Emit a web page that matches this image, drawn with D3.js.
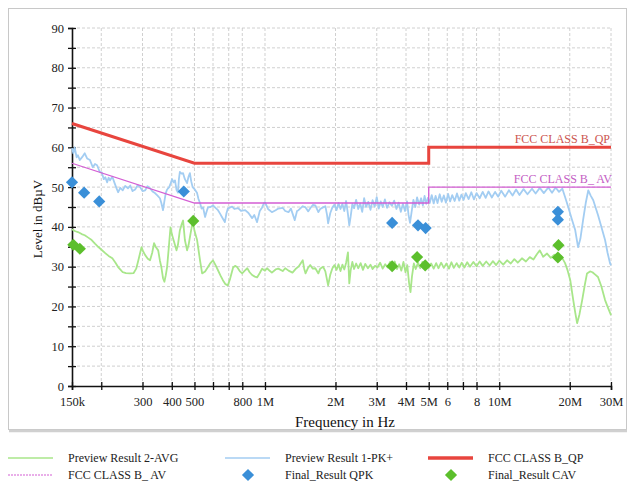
<!DOCTYPE html>
<html><head><meta charset="utf-8">
<script src="https://cdn.jsdelivr.net/npm/d3@7"></script>
<style>body{margin:0;background:#fff}svg text{font-family:"Liberation Serif","DejaVu Serif",serif}</style>
</head><body><svg id="c" width="628" height="487"></svg>
<script>
// ---- data (frequency in MHz, level in dBµV) ----
const yTicks = [0,5,10,15,20,25,30,35,40,45,50,55,60,65,70,75,80,85,90];
const xTicks = [0.15,0.2,0.3,0.4,0.5,0.6,0.7,0.8,1,2,3,4,5,6,7,8,10,20,30];
const xTickLabels = ["150k","","300","400","500","","","800","1M","2M","3M","4M","5M","6","","8","10M","20M","30M"];

const qpLimit = [[0.15,66],[0.5,56],[5,56],[5,60],[30,60]];
const avLimit = [[0.15,56],[0.5,46],[5,46],[5,50],[30,50]];

const pkTrace = [[0.150,59.8],[0.152,58.5],[0.154,60.0],[0.157,57.5],[0.159,58.0],[0.162,56.8],[0.166,57.6],[0.170,58.5],[0.174,57.2],[0.179,56.8],[0.184,55.0],[0.188,55.8],[0.192,55.5],[0.197,53.8],[0.201,53.7],[0.205,52.0],[0.208,52.5],[0.212,51.2],[0.215,52.4],[0.218,51.7],[0.223,52.6],[0.228,51.0],[0.232,49.8],[0.236,48.7],[0.241,49.8],[0.247,49.2],[0.253,50.3],[0.260,49.7],[0.266,50.4],[0.272,49.0],[0.279,49.4],[0.286,50.5],[0.293,50.0],[0.300,49.0],[0.308,49.2],[0.315,50.2],[0.323,49.7],[0.331,48.9],[0.339,48.5],[0.347,47.9],[0.356,47.2],[0.361,46.0],[0.367,44.2],[0.372,46.5],[0.377,48.5],[0.382,49.4],[0.390,50.0],[0.396,51.0],[0.401,52.0],[0.407,51.2],[0.413,51.7],[0.419,49.3],[0.425,48.6],[0.429,52.0],[0.433,53.8],[0.440,53.4],[0.447,53.5],[0.455,52.0],[0.465,51.0],[0.471,52.5],[0.478,53.5],[0.484,51.5],[0.491,50.0],[0.500,49.5],[0.513,48.5],[0.520,47.0],[0.528,46.0],[0.536,44.6],[0.544,44.9],[0.555,42.5],[0.563,43.8],[0.571,44.9],[0.585,45.0],[0.600,45.4],[0.615,44.8],[0.630,44.2],[0.642,43.4],[0.655,42.5],[0.674,41.2],[0.685,43.5],[0.694,44.6],[0.710,44.9],[0.724,45.1],[0.740,44.5],[0.768,44.7],[0.790,44.0],[0.823,44.2],[0.850,43.5],[0.881,42.2],[0.900,43.0],[0.925,41.2],[0.950,44.0],[0.972,44.9],[0.990,46.0],[1.00,46.2],[1.03,44.5],[1.07,43.7],[1.11,44.2],[1.14,44.6],[1.19,44.8],[1.22,44.0],[1.26,43.7],[1.29,44.6],[1.34,41.7],[1.37,44.0],[1.39,44.2],[1.45,45.2],[1.49,44.9],[1.53,43.9],[1.56,44.7],[1.60,45.5],[1.64,45.4],[1.69,43.7],[1.72,44.5],[1.77,44.9],[1.81,45.2],[1.84,43.0],[1.86,40.9],[1.90,43.5],[1.94,44.9],[1.98,45.6],[2.02,44.2],[2.06,46.0],[2.10,44.5],[2.14,45.8],[2.18,44.0],[2.22,46.5],[2.26,43.2],[2.29,40.4],[2.32,42.5],[2.36,45.8],[2.40,44.7],[2.45,46.8],[2.50,44.5],[2.55,45.9],[2.60,43.8],[2.65,47.2],[2.70,45.0],[2.76,46.3],[2.82,44.3],[2.88,46.7],[2.94,45.1],[3.00,47.5],[3.06,44.6],[3.12,46.4],[3.18,45.0],[3.25,46.9],[3.32,44.8],[3.40,46.2],[3.48,45.3],[3.56,46.6],[3.64,44.5],[3.72,46.1],[3.80,43.8],[3.88,45.8],[3.96,44.0],[4.04,46.4],[4.10,43.0],[4.16,41.0],[4.22,43.5],[4.30,46.8],[4.38,45.0],[4.46,47.4],[4.55,45.6],[4.64,47.2],[4.72,45.4],[4.80,47.8],[4.88,45.8],[4.96,47.3],[5.05,46.0],[5.15,48.0],[5.25,45.9],[5.35,47.8],[5.45,46.0],[5.57,48.2],[5.68,46.3],[5.80,47.9],[5.92,46.1],[6.05,48.3],[6.17,46.4],[6.30,48.0],[6.45,46.5],[6.60,48.4],[6.75,46.6],[6.90,48.1],[7.05,46.8],[7.20,48.5],[7.40,47.0],[7.60,48.7],[7.80,46.9],[8.00,48.5],[8.25,47.2],[8.50,48.8],[8.75,47.3],[9.00,48.9],[9.30,47.4],[9.60,48.8],[9.90,47.6],[10.2,49.1],[10.6,47.6],[11.0,49.2],[11.4,47.9],[11.8,49.4],[12.2,48.0],[12.7,49.5],[13.2,48.2],[13.8,49.6],[14.3,48.4],[14.9,49.8],[15.5,48.5],[16.2,49.9],[16.8,48.6],[17.4,49.9],[18.0,48.8],[18.6,49.6],[19.1,47.5],[19.7,45.0],[20.4,42.0],[21.1,39.2],[21.7,34.9],[22.2,37.0],[22.8,41.7],[23.4,46.0],[24.0,49.2],[24.6,47.8],[25.2,46.7],[25.8,44.8],[26.4,43.0],[27.3,40.0],[28.3,36.7],[29.0,33.5],[29.7,30.9],[30.0,30.3]];

const avgTrace = [[0.150,39.4],[0.155,38.9],[0.159,38.7],[0.165,38.2],[0.170,37.9],[0.176,37.3],[0.182,36.7],[0.188,35.8],[0.194,35.0],[0.201,34.2],[0.208,33.4],[0.215,32.7],[0.223,32.1],[0.230,31.0],[0.236,29.9],[0.242,29.2],[0.247,28.6],[0.255,28.4],[0.265,28.3],[0.275,28.4],[0.282,29.5],[0.288,31.6],[0.297,34.9],[0.302,33.8],[0.308,32.9],[0.316,32.0],[0.323,31.6],[0.330,33.5],[0.336,35.9],[0.343,34.8],[0.350,34.1],[0.356,31.5],[0.361,29.9],[0.367,27.1],[0.372,26.2],[0.377,27.8],[0.382,29.9],[0.388,34.5],[0.395,39.9],[0.401,38.0],[0.407,36.7],[0.419,34.1],[0.425,35.5],[0.433,39.1],[0.440,40.5],[0.447,41.6],[0.455,36.7],[0.465,34.1],[0.472,35.5],[0.478,37.4],[0.485,39.5],[0.491,41.6],[0.500,39.0],[0.513,36.7],[0.528,31.6],[0.539,28.3],[0.555,28.8],[0.571,29.9],[0.585,30.9],[0.600,31.6],[0.615,30.4],[0.630,29.1],[0.645,27.8],[0.661,26.6],[0.678,25.6],[0.694,25.3],[0.710,27.0],[0.731,29.8],[0.745,30.2],[0.760,29.9],[0.780,28.9],[0.799,28.3],[0.820,29.0],[0.840,29.6],[0.860,28.6],[0.881,27.9],[0.905,27.5],[0.925,27.3],[0.950,28.4],[0.972,29.5],[1.00,29.0],[1.02,29.6],[1.05,28.9],[1.07,28.5],[1.11,29.3],[1.14,29.5],[1.19,28.9],[1.22,29.6],[1.26,29.0],[1.31,28.5],[1.35,29.4],[1.39,30.0],[1.45,31.6],[1.47,29.5],[1.49,28.3],[1.53,29.8],[1.56,30.4],[1.60,29.5],[1.64,29.6],[1.69,28.3],[1.72,29.5],[1.77,30.0],[1.81,28.8],[1.86,25.3],[1.90,28.0],[1.94,29.6],[1.98,30.4],[2.02,29.2],[2.06,30.6],[2.10,28.9],[2.14,30.5],[2.18,29.3],[2.22,31.0],[2.26,33.6],[2.29,25.8],[2.32,29.0],[2.36,31.2],[2.40,29.4],[2.45,30.8],[2.50,29.6],[2.56,30.9],[2.62,29.2],[2.68,30.7],[2.75,29.6],[2.82,30.5],[2.88,29.4],[2.95,30.2],[3.02,29.8],[3.10,31.0],[3.18,29.5],[3.26,30.6],[3.34,29.8],[3.42,31.2],[3.50,30.0],[3.58,31.3],[3.66,29.4],[3.74,30.6],[3.82,29.0],[3.90,31.2],[3.98,28.6],[4.05,30.4],[4.12,26.0],[4.18,23.6],[4.24,27.5],[4.32,30.8],[4.40,29.4],[4.50,31.0],[4.60,29.6],[4.70,31.2],[4.80,29.8],[4.90,31.0],[5.00,29.7],[5.12,30.8],[5.25,29.5],[5.38,30.9],[5.50,29.6],[5.65,31.0],[5.80,29.7],[5.95,30.8],[6.10,29.5],[6.25,31.1],[6.40,29.7],[6.58,30.9],[6.75,29.8],[6.92,31.0],[7.10,29.8],[7.30,31.1],[7.50,30.0],[7.75,31.2],[8.00,30.1],[8.25,31.3],[8.50,30.2],[8.80,31.3],[9.10,30.3],[9.40,31.4],[9.70,30.4],[10.0,31.5],[10.4,30.5],[10.8,31.6],[11.2,30.8],[11.6,31.9],[12.0,31.0],[12.5,32.1],[13.0,31.3],[13.5,32.4],[14.0,31.8],[14.5,33.2],[14.9,34.1],[15.4,32.5],[16.0,33.3],[16.6,32.2],[17.2,33.0],[17.8,32.0],[18.4,32.6],[19.1,30.9],[19.6,29.0],[20.1,26.6],[20.7,21.6],[21.1,18.5],[21.5,15.8],[22.0,18.0],[22.6,21.6],[23.2,25.5],[23.7,28.3],[24.4,28.8],[25.0,28.6],[25.7,28.0],[26.4,27.4],[27.3,25.0],[28.3,21.6],[29.2,19.5],[30.0,17.8]];

const qpkPoints = [[0.150,51.2],[0.169,48.6],[0.196,46.4],[0.45,48.9],[3.49,41.0],[4.5,40.4],[4.85,39.7],[17.8,43.8],[17.8,41.8]];
const cavPoints = [[0.152,35.5],[0.162,34.5],[0.494,41.5],[3.49,30.1],[4.46,32.4],[4.83,30.3],[17.9,35.4],[17.8,32.3]];

const legendItems = [
  {label:"Preview Result 2-AVG", type:"line", color:"#a8e68a", w:1.5},
  {label:"Preview Result 1-PK+", type:"line", color:"#a3cdf2", w:1.5},
  {label:"FCC CLASS B_QP", type:"line", color:"#e8453e", w:3.5},
  {label:"FCC CLASS B_ AV", type:"dash", color:"#d45ed4", w:1.2},
  {label:"Final_Result QPK", type:"diamond", color:"#3a8fd8"},
  {label:"Final_Result CAV", type:"diamond", color:"#5cbf2c"}
];

// ---- drawing ----
const svg = d3.select("#c");
const X0=72, X1=611, Y0=28, Y1=386;
const x = d3.scaleLog().domain([0.15,30]).range([X0,X1]);
const y = d3.scaleLinear().domain([0,90]).range([Y1,Y0]);

// frame
svg.append("rect").attr("x",8.5).attr("y",8.5).attr("width",618).attr("height",421)
  .attr("fill","#fff").attr("stroke","#c8c8c8").attr("stroke-width",1);
svg.append("line").attr("x1",9).attr("x2",627).attr("y1",431).attr("y2",431).attr("stroke","#d0d0d0").attr("stroke-width",2.5);

// grid
const grid = svg.append("g").attr("stroke","#c4c4c4").attr("stroke-width",0.8).attr("stroke-dasharray","3,2");
grid.selectAll(".h").data(yTicks.filter(d=>d>0)).enter().append("line")
  .attr("x1",X0).attr("x2",X1).attr("y1",d=>y(d)).attr("y2",d=>y(d));
grid.selectAll(".v").data(xTicks.filter(d=>d>0.15)).enter().append("line")
  .attr("y1",Y0).attr("y2",Y1).attr("x1",d=>x(d)).attr("x2",d=>x(d));

// axes
const yAxis = svg.append("g").attr("transform",`translate(${X0},0)`)
  .call(d3.axisLeft(y).tickValues(yTicks).tickSize(4).tickFormat(d=>d%10===0?d:""));
const xAxis = svg.append("g").attr("transform",`translate(0,${Y1})`)
  .call(d3.axisBottom(x).tickValues(xTicks).tickSize(4).tickFormat((d,i)=>xTickLabels[i]));
[yAxis,xAxis].forEach(a=>{
  a.select(".domain").attr("stroke","#111").attr("stroke-width",1.6);
  a.selectAll(".tick line").attr("stroke","#111").attr("stroke-width",1.3);
  a.selectAll(".tick text").attr("fill","#222").attr("font-size",12.5)
    .attr("font-family",'"Liberation Serif",serif');
});
yAxis.selectAll(".tick line").attr("x1",4).attr("x2",-4);
yAxis.selectAll(".tick text").attr("x",-8);
xAxis.selectAll(".tick line").attr("y1",-4).attr("y2",4);
xAxis.selectAll(".tick text").attr("y",0).attr("dy","20px");

// titles
svg.append("text").attr("x",345).attr("y",427).attr("text-anchor","middle")
  .attr("font-size",15).attr("fill","#111").text("Frequency in Hz");
svg.append("text").attr("transform","translate(42,219) rotate(-90)").attr("text-anchor","middle")
  .attr("font-size",13).attr("fill","#111").text("Level in dBµV");

// traces
const line = d3.line().x(d=>x(d[0])).y(d=>y(d[1]));
svg.append("path").datum(avgTrace).attr("d",line).attr("fill","none")
  .attr("stroke","#a8e68a").attr("stroke-width",1.8).attr("stroke-linejoin","round");
svg.append("path").datum(pkTrace).attr("d",line).attr("fill","none")
  .attr("stroke","#a3cdf2").attr("stroke-width",1.8).attr("stroke-linejoin","round");
svg.append("path").datum(avLimit).attr("d",line).attr("fill","none")
  .attr("stroke","#d45ed4").attr("stroke-width",1.3);
svg.append("path").datum(qpLimit).attr("d",line).attr("fill","none")
  .attr("stroke","#e8453e").attr("stroke-width",3);

// limit labels
svg.append("text").attr("x",x(30)-1).attr("y",y(60)-4).attr("text-anchor","end")
  .attr("font-size",12).attr("fill","#cc5550").text("FCC CLASS B_QP");
svg.append("text").attr("x",x(30)+1).attr("y",y(50)-4).attr("text-anchor","end")
  .attr("font-size",12).attr("fill","#c460c4").text("FCC CLASS B_ AV");

// markers
const diamond = d3.symbol().type(d3.symbolDiamond2).size(95);
svg.append("g").selectAll("path").data(qpkPoints).enter().append("path")
  .attr("d",diamond).attr("transform",d=>`translate(${x(d[0])},${y(d[1])})`)
  .attr("fill","#3a8fd8");
svg.append("g").selectAll("path").data(cavPoints).enter().append("path")
  .attr("d",diamond).attr("transform",d=>`translate(${x(d[0])},${y(d[1])})`)
  .attr("fill","#5cbf2c");

// legend
const colX=[8,225,428], rowY=[458,475];
legendItems.forEach((it,i)=>{
  const cx=colX[i%3], cy=rowY[Math.floor(i/3)];
  const g=svg.append("g");
  if(it.type==="line"){
    g.append("line").attr("x1",cx).attr("x2",cx+45).attr("y1",cy).attr("y2",cy)
      .attr("stroke",it.color).attr("stroke-width",it.w);
  } else if(it.type==="dash"){
    g.append("line").attr("x1",cx).attr("x2",cx+45).attr("y1",cy).attr("y2",cy)
      .attr("stroke",it.color).attr("stroke-width",it.w).attr("stroke-dasharray","2,1");
  } else {
    g.append("path").attr("d",diamond).attr("transform",`translate(${cx+23},${cy})`).attr("fill",it.color);
  }
  g.append("text").attr("x",cx+60).attr("y",cy+4).attr("font-size",12).attr("fill","#222").text(it.label);
});
</script></body></html>
